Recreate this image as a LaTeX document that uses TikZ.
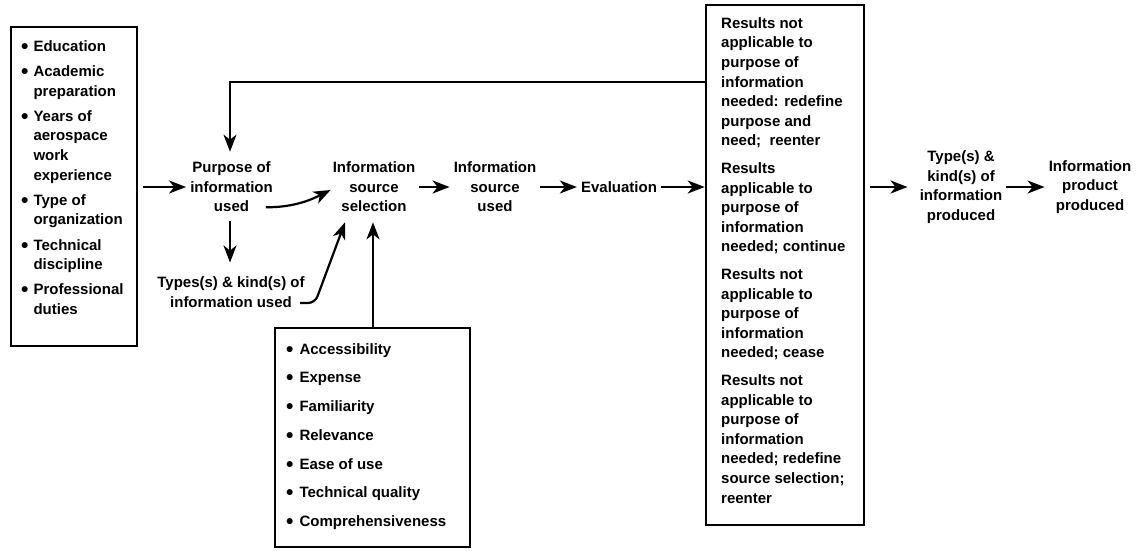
\documentclass[tikz,border=0pt]{standalone}
\usepackage{fontspec}
\setmainfont{Liberation Sans}
\usetikzlibrary{arrows.meta,calc}
\newcommand{\mainfnt}{\bfseries\fontsize{15}{19.6}\selectfont}
\newcommand{\bul}{\raisebox{-2pt}{\scalebox{1.4}{\textbullet}}}
\begin{document}
\begin{tikzpicture}[x=1pt,y=-1pt,
  txt/.style={font=\mainfnt, align=center, inner sep=4pt},
  lst/.style={font=\mainfnt, inner sep=0pt, anchor=north west},
  box/.style={draw, line width=2.6pt, inner sep=0pt},
  arr/.style={line width=2.2pt, -{Stealth[length=17pt,width=13pt,inset=5pt]}}]
\useasboundingbox (0,0) rectangle (1141,550);

% left box
\node[box, minimum width=126, minimum height=319] (lbox) at (74,186.5) {};
\node[lst] (ltext) at (21,37.3) {%
\begin{tabular}{@{}l@{\hspace{5pt}}l@{}}
\bul & Education\\[5.6pt]
\bul & Academic\\ & preparation\\[5.6pt]
\bul & Years of\\ & aerospace\\ & work\\ & experience\\[5.6pt]
\bul & Type of\\ & organization\\[5.6pt]
\bul & Technical\\ & discipline\\[5.6pt]
\bul & Professional\\ & duties
\end{tabular}};

% main row
\node[txt] (purpose) at (231.5,187) {Purpose of\\information\\used};
\node[txt] (types) at (231,292) {Types(s) \& kind(s) of\\information used};
\node[txt] (iss) at (374,187) {Information\\source\\selection};
\node[txt] (used) at (495,187) {Information\\source\\used};
\node[txt] (eval) at (619,187) {Evaluation};

% bottom box
\node[box, minimum width=195, minimum height=219] (bbox) at (372.5,437.5) {};
\node[lst] (btext) at (286,340.3) {%
\begin{tabular}{@{}l@{\hspace{6pt}}l@{}}
\bul & Accessibility\\[9.1pt]
\bul & Expense\\[9.1pt]
\bul & Familiarity\\[9.1pt]
\bul & Relevance\\[9.1pt]
\bul & Ease of use\\[9.1pt]
\bul & Technical quality\\[9.1pt]
\bul & Comprehensiveness
\end{tabular}};

% right box
\node[box, minimum width=158, minimum height=520] (rbox) at (785,265) {};
\node[lst] (rtext) at (721,14.3) {%
\begin{tabular}{@{}l@{}}
Results not\\ applicable to\\ purpose of\\ information\\ needed: redefine\\ purpose and\\ need;\ \ reenter\\[8pt]
Results\\ applicable to\\ purpose of\\ information\\ needed; continue\\[8pt]
Results not\\ applicable to\\ purpose of\\ information\\ needed; cease\\[8pt]
Results not\\ applicable to\\ purpose of\\ information\\ needed; redefine\\ source selection;\\ reenter
\end{tabular}};

\node[txt] (typ2) at (961,187) {Type(s) \&\\kind(s) of\\information\\produced};
\node[txt] (prod) at (1090,187) {Information\\product\\produced};

% connectors
\coordinate (fbturn) at (230,82);
\coordinate (vtop) at ($(iss.south)+(-1,6)$);
\draw[arr, shorten >=6pt] (rbox.west |- fbturn) -- (fbturn) -- (fbturn |- purpose.north);
\draw[arr, shorten <=5pt] (lbox.east |- purpose.west) -- (purpose.west);
\draw[arr, shorten <=5pt, shorten >=10pt] (purpose.south -| fbturn) -- (types.north -| fbturn);
\draw[arr] ($(purpose.south east)+(-11,-9)$) .. controls +(28,0) and +(-20,10) .. ($(iss.west)+(2,3)$);
\coordinate (tstart) at (300,303);
\draw[arr, rounded corners=7pt] (tstart) -- ++(15,0) -- ($(iss.south)+(-29,6)$);
\draw[arr] (vtop |- bbox.north) -- (vtop);
\draw[arr] (iss.east) -- (used.west);
\draw[arr] (used.east) -- (eval.west);
\draw[arr] (eval.east) -- (rbox.west |- eval.east);
\draw[arr, shorten <=5pt, shorten >=8pt] (rbox.east |- typ2.west) -- (typ2.west);
\draw[arr] (typ2.east) -- (prod.west);
\end{tikzpicture}
\end{document}
